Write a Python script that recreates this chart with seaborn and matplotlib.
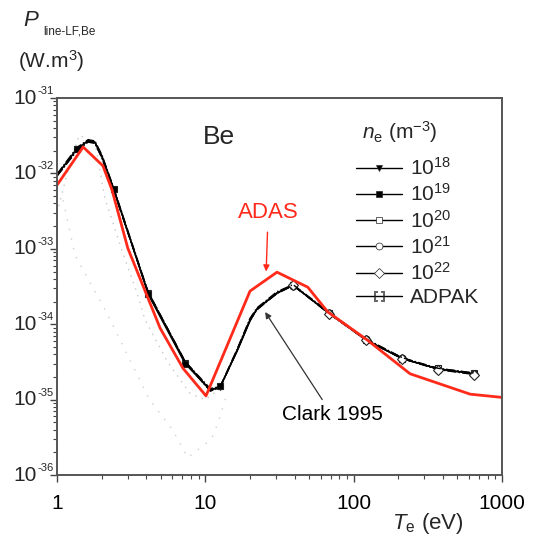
import numpy as np
import pandas as pd
import seaborn as sns
import matplotlib.pyplot as plt
from matplotlib.lines import Line2D
from matplotlib.ticker import NullFormatter
from matplotlib.transforms import offset_copy

# ADAS curve (red)
te_adas = [1.0, 1.5, 2.04, 2.35, 3.0, 4.95, 7.07, 10.1, 20, 30.4, 49, 67, 123, 240, 610, 1000]
p_adas = [7.0e-33, 2.24e-32, 1.26e-32, 6.0e-33, 1.02e-33, 8.9e-35, 2.6e-35, 1.12e-35,
          2.75e-34, 4.9e-34, 3.1e-34, 1.45e-34, 6.2e-35, 2.2e-35, 1.18e-35, 1.07e-35]

# Clark 1995 curves, one per density (they nearly coincide)
te_clark = [1.0, 1.36, 1.62, 1.8, 2.01, 2.42, 4.11, 7.3, 10.8, 12.6, 16.4, 20, 22.3,
            30.4, 39, 68, 121, 212, 371, 648]
p_1e18 = [9.5e-33, 2.1e-32, 2.7e-32, 2.6e-32, 1.65e-32, 6.0e-33, 2.6e-34, 3.1e-35, 1.35e-35,
          1.47e-35, 4.5e-35, 1.14e-34, 1.6e-34, 2.6e-34, 3.3e-34, 1.4e-34, 6.2e-35, 3.5e-35,
          2.55e-35, 2.2e-35]
p_1e19 = [9.6e-33, 2.1e-32, 2.75e-32, 2.6e-32, 1.7e-32, 6.2e-33, 2.5e-34, 3.0e-35, 1.33e-35,
          1.5e-35, 4.4e-35, 1.1e-34, 1.6e-34, 2.6e-34, 3.3e-34, 1.4e-34, 6.2e-35, 3.5e-35,
          2.55e-35, 2.2e-35]
p_1e20 = [9.4e-33, 2.05e-32, 2.7e-32, 2.55e-32, 1.65e-32, 6.0e-33, 2.6e-34, 3.1e-35, 1.3e-35,
          1.45e-35, 4.6e-35, 1.15e-34, 1.55e-34, 2.6e-34, 3.3e-34, 1.42e-34, 6.1e-35, 3.5e-35,
          2.6e-35, 2.25e-35]
p_1e21 = [9.3e-33, 2.0e-32, 2.65e-32, 2.55e-32, 1.6e-32, 5.8e-33, 2.6e-34, 3.2e-35, 1.3e-35,
          1.45e-35, 4.5e-35, 1.12e-34, 1.58e-34, 2.55e-34, 3.25e-34, 1.4e-34, 6.3e-35, 3.6e-35,
          2.5e-35, 2.2e-35]
p_1e22 = [9.2e-33, 2.0e-32, 2.6e-32, 2.5e-32, 1.6e-32, 5.8e-33, 2.7e-34, 3.2e-35, 1.32e-35,
          1.48e-35, 4.6e-35, 1.15e-34, 1.6e-34, 2.55e-34, 3.3e-34, 1.38e-34, 6.2e-35, 3.5e-35,
          2.5e-35, 2.15e-35]
p_adpak = [9.8e-33, 2.2e-32, 2.8e-32, 2.7e-32, 1.75e-32, 6.3e-33, 2.7e-34, 3.2e-35, 1.4e-35,
           1.5e-35, 4.7e-35, 1.2e-34, 1.65e-34, 2.7e-34, 3.35e-34, 1.45e-34, 6.4e-35, 3.6e-35,
           2.6e-35, 2.25e-35]

# faint dotted traces
te_faint1 = [1.0, 1.2, 1.41, 1.8, 2.1, 2.78, 3.46, 3.92, 5.6, 7.9, 10, 12, 15]
p_faint1 = [3.0e-33, 1.2e-32, 3.2e-32, 2.6e-32, 4.7e-33, 8.7e-34, 2.6e-34, 1.14e-34,
            3.1e-35, 1.2e-35, 1.0e-35, 1.3e-35, 3.0e-35]
te_faint2 = [1.1, 1.32, 2.17, 4.2, 6.0, 7.6, 11, 12.2, 14]
p_faint2 = [4.4e-33, 8.3e-34, 1.4e-34, 1.0e-35, 4.0e-36, 1.7e-36, 3.0e-36, 5.0e-36, 1.2e-35]

densities = ['$10^{18}$', '$10^{19}$', '$10^{20}$', '$10^{21}$', '$10^{22}$', 'ADPAK']
y_decades = [-31, -32, -33, -34, -35, -36]
x_ticks = [1, 10, 100, 1000]
x_labels = ['1', '10', '100', '1000']

sns.set_style('ticks')
plt.rcParams['font.family'] = ['Liberation Sans', 'DejaVu Sans']
plt.rcParams['mathtext.fontset'] = 'custom'
plt.rcParams['mathtext.rm'] = 'Liberation Sans'
plt.rcParams['mathtext.it'] = 'Liberation Sans:italic'

fig = plt.figure(figsize=(5.41, 5.38), dpi=100)
ax = fig.add_axes([0.1054, 0.1171, 0.8226, 0.7007])

sns.lineplot(x=te_faint1, y=p_faint1, ax=ax, sort=False, color='#c8c8c8',
             linestyle=(0, (1, 4)), linewidth=1.0)
sns.lineplot(x=te_faint2, y=p_faint2, ax=ax, sort=False, color='#d0d0d0',
             linestyle=(0, (1, 6)), linewidth=1.0)

filled_idx = [1, 5, 6, 7, 9]
open_idx = [14, 15, 16, 17, 18, 19]
styles = [
    (p_1e18, dict(marker='v', markevery=filled_idx, mfc='black', linestyle='-')),
    (p_1e19, dict(marker='s', markevery=filled_idx, mfc='black', linestyle='-')),
    (p_1e20, dict(marker='s', markevery=open_idx, mfc='white', linestyle='-.')),
    (p_1e21, dict(marker='o', markevery=open_idx, mfc='white', linestyle='-.')),
    (p_1e22, dict(marker='D', markevery=open_idx, mfc='white', linestyle='-.')),
    (p_adpak, dict(marker=None, linestyle='-.')),
]
for vals, st in styles:
    sns.lineplot(x=te_clark, y=vals, ax=ax, color='black', linewidth=1.0,
                 markersize=5, mec='#222222', mew=0.8, sort=False, **st)

sns.lineplot(x=te_adas, y=p_adas, ax=ax, color='#ff2a1a', linewidth=2.0, sort=False)

ax.set_xscale('log')
ax.set_yscale('log')
ax.set_xlim(1, 1000)
ax.set_ylim(1e-36, 1e-31)
ax.set_xticks(x_ticks, labels=x_labels)
ax.yaxis.set_major_formatter(NullFormatter())
ax.yaxis.set_minor_formatter(NullFormatter())
ax.tick_params(which='both', direction='out', colors='#444444', labelcolor='black',
               labelsize=15, top=False, right=False)
ax.tick_params(axis='x', which='major', pad=9)
ax.tick_params(which='major', length=5, width=1.0)
ax.tick_params(which='minor', length=3, width=0.8)
for s in ax.spines.values():
    s.set_color('#555555')
    s.set_linewidth(1.4)
ax.set_xlabel('')
ax.set_ylabel('')

# y tick labels: large "10" with small exponent
ytr = ax.get_yaxis_transform()
base_tr = offset_copy(ytr, fig=fig, x=-20, y=0, units='dots')
exp_tr = offset_copy(ytr, fig=fig, x=-20, y=7, units='dots')
for d in y_decades:
    ax.text(0, 10.0 ** d, '10', transform=base_tr, fontsize=15, ha='right', va='center')
    ax.text(0, 10.0 ** d, str(d), transform=exp_tr, fontsize=8, ha='left', va='center')

ax.text(12.4, 3e-32, 'Be', fontsize=19, ha='center', va='center')

ax.annotate('ADAS', xy=(25.7, 5.0e-34), xytext=(26.5, 3.0e-33), color='#ff2a1a',
            fontsize=16, ha='center', va='center',
            arrowprops=dict(arrowstyle='-|>', color='#ff2a1a', lw=1.0,
                            mutation_scale=9, shrinkA=4, shrinkB=0))
ax.annotate('Clark 1995', xy=(25.3, 1.45e-34), xytext=(71.5, 6.3e-36), color='black',
            fontsize=15, ha='center', va='center',
            arrowprops=dict(arrowstyle='-|>', color='#333333', lw=0.9,
                            mutation_scale=9, shrinkA=2, shrinkB=0))

handles = []
for vals, st in styles:
    handles.append(Line2D([], [], color='black', linewidth=1.0, linestyle='-',
                          marker=st['marker'] if st['marker'] else r'$[\;\;]$',
                          markersize=5 if st['marker'] else 7,
                          mfc=st.get('mfc', 'none'), mec='#222222', mew=0.5))
ax.legend(handles, densities, loc='upper left', bbox_to_anchor=(356 / 541, 1 - 157 / 538),
          bbox_transform=fig.transFigure, frameon=False, fontsize=15,
          handlelength=2.2, handletextpad=0.4, labelspacing=0.21, borderpad=0,
          borderaxespad=0)

fig.text(400 / 541, 1 - 132 / 538, r'$n_{\mathrm{e}}$ (m$^{-3}$)', fontsize=15,
         ha='center', va='center')
fig.text(23 / 541, 1 - 21 / 538, 'P', fontsize=16, style='italic', ha='left', va='center')
fig.text(43 / 541, 1 - 31 / 538, 'line-LF,Be', fontsize=8.5, ha='left', va='center')
fig.text(18 / 541, 1 - 61 / 538, r'(W.m$^3$)', fontsize=15, ha='left', va='center')
fig.text(428 / 541, 1 - 523 / 538, r'$T_{\mathrm{e}}$ (eV)', fontsize=16,
         ha='center', va='center')

fig.savefig('out.png', dpi=100)
